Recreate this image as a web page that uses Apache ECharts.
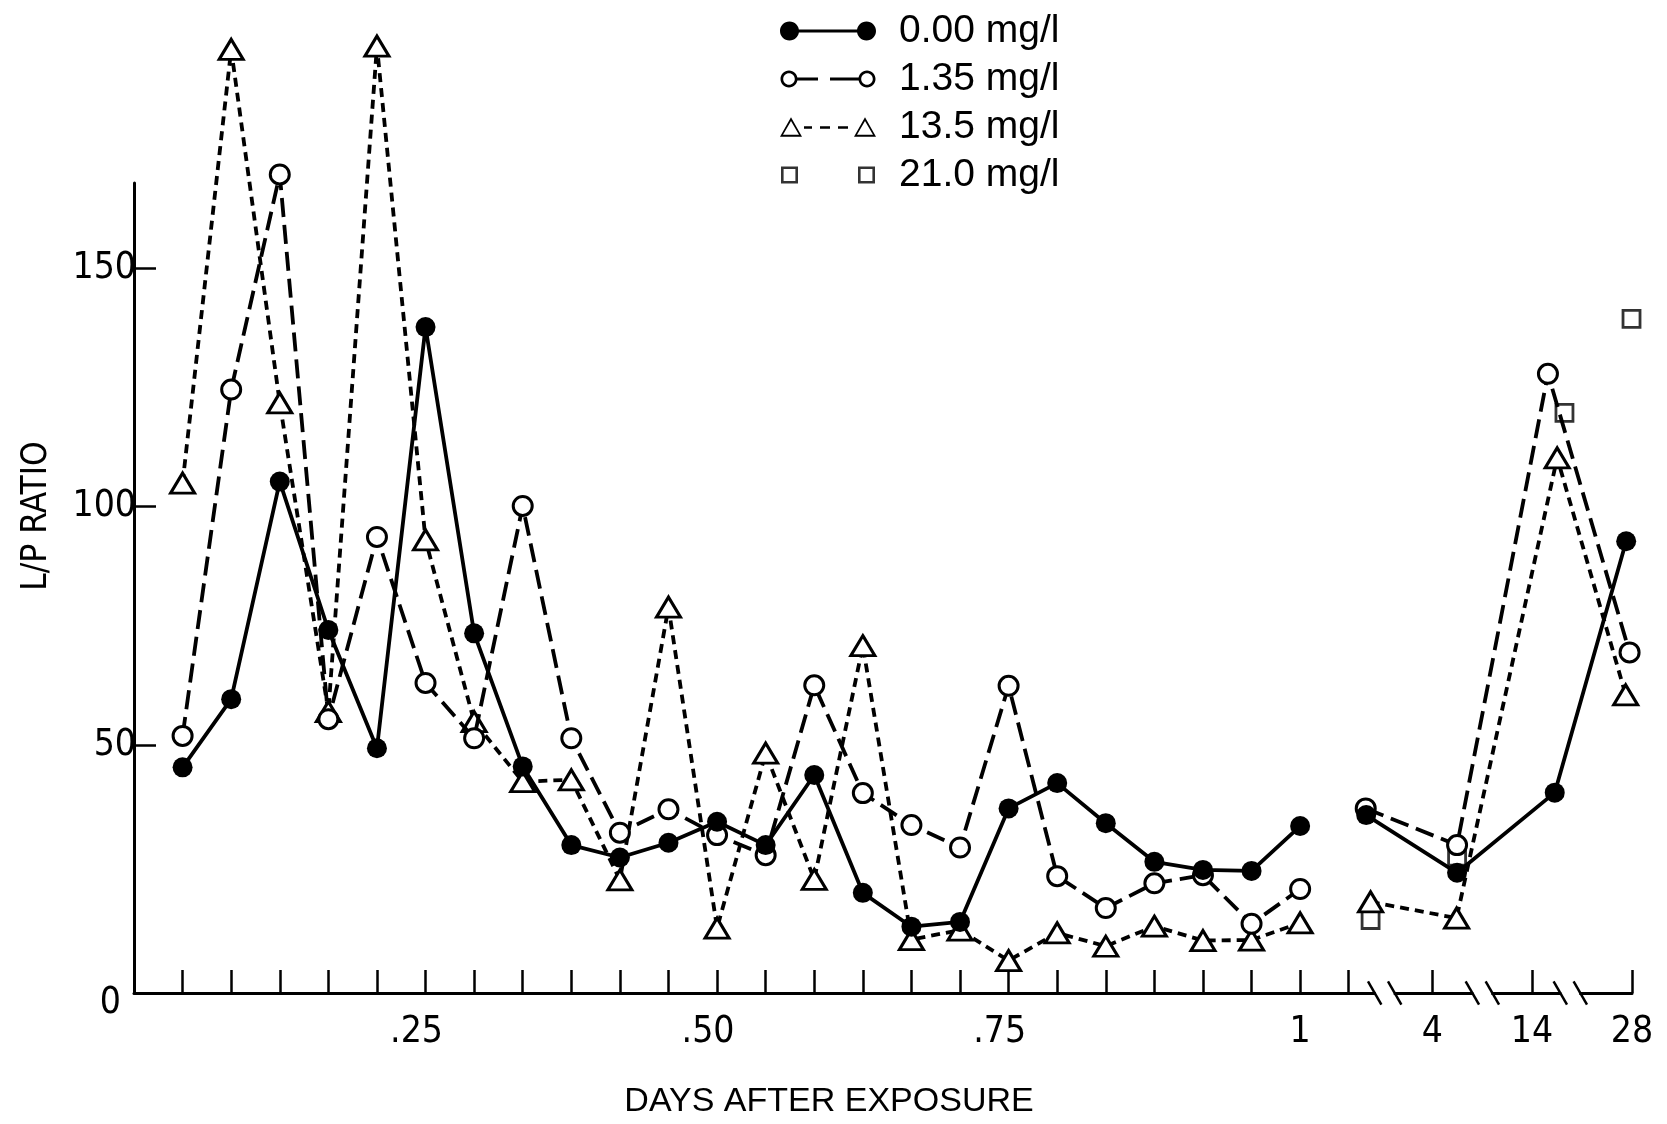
<!DOCTYPE html>
<html>
<head>
<meta charset="utf-8">
<script src="https://cdn.jsdelivr.net/npm/echarts@6/dist/echarts.min.js"></script>
<style>html,body{margin:0;padding:0;background:#fff}#chart{width:1667px;height:1124px}</style>
</head>
<body>
<div id="chart"></div>
<script>
// Axis slots: 1..24 = hours of the first day; later slots sit past the axis breaks
const hours = [1,2,3,4,5,6,7,8,9,10,11,12,13,14,15,16,17,18,19,20,21,22,23,24];
const seriesNames = ['0.00 mg/l', '1.35 mg/l', '13.5 mg/l', '21.0 mg/l'];

const conc000Early = [45.3, 59.6, 105.2, 74.1, 49.3, 137.6, 73.4, 45.5, 29.0, 26.4, 29.5, 33.9, 29.0, 43.7, 19.0, 11.9, 12.9, 36.7, 42.0, 33.6, 25.5, 23.8, 23.6, 33.0];
const conc135Early = [51.9, 124.5, 169.6, 55.4, 93.6, 63.0, 51.4, 100.1, 51.4, 31.6, 36.5, 31.1, 26.9, 62.5, 39.9, 33.2, 28.5, 62.4, 22.5, 15.8, 21.0, 22.7, 12.5, 19.8];
const conc135hEarly = [104.9, 195.8, 121.7, 57.0, 196.5, 93.0, 54.9, 42.3, 42.7, 21.7, 78.9, 11.6, 48.3, 21.8, 70.8, 9.2, 11.2, 4.8, 10.6, 7.8, 12.0, 9.0, 9.1, 12.7];

const conc000LateSlots = [25.36, 27.23, 29.24, 30.71];
const conc000Late = [35.3, 23.2, 40.0, 92.7];
const conc135LateSlots = [25.35, 27.23, 29.10, 30.78];
const conc135Late = [36.7, 29.0, 127.8, 69.4];
const conc135hLateSlots = [25.45, 27.22, 29.29, 30.70];
const conc135hLate = [17.1, 13.7, 110.2, 60.5];
const conc210Slots = [25.45, 27.23, 29.44, 30.82];
const conc210 = [13.3, 26.6, 119.6, 139.3];

const xTickValues = [1,2,3,4,5,6,7,8,9,10,11,12,13,14,15,16,17,18,19,20,21,22,23,24,25,26.72,28.77,30.83];
const xLabelValues = [6, 12, 18, 24, 26.72, 28.77, 30.83];
const xLabelTexts = ['.25', '.50', '.75', '1', '4', '14', '28'];
const xBreakSlots = [25.74, 27.75, 29.56];
const yLabelValues = [0, 50, 100, 150];
const yTickValues = [50, 100, 150];

const X_MIN = 0, X_MAX = 30.83, Y_MIN = -2, Y_MAX = 167.8;
const narrow = "'Liberation Sans Narrow', 'DejaVu Sans Condensed', 'Liberation Sans', sans-serif";
const regular = "'Liberation Sans', Arial, sans-serif";

function pairs(xs, ys) { return xs.map((x, i) => [x, ys[i]]); }

// legend icon path helpers (clockwise = filled, counter-clockwise = hole)
function circ(cx, cy, r, ccw) {
  const k = 0.5523 * r;
  if (!ccw) {
    return `M${cx - r},${cy}C${cx - r},${cy - k} ${cx - k},${cy - r} ${cx},${cy - r}C${cx + k},${cy - r} ${cx + r},${cy - k} ${cx + r},${cy}` +
      `C${cx + r},${cy + k} ${cx + k},${cy + r} ${cx},${cy + r}C${cx - k},${cy + r} ${cx - r},${cy + k} ${cx - r},${cy}Z`;
  }
  return `M${cx - r},${cy}C${cx - r},${cy + k} ${cx - k},${cy + r} ${cx},${cy + r}C${cx + k},${cy + r} ${cx + r},${cy + k} ${cx + r},${cy}` +
    `C${cx + r},${cy - k} ${cx + k},${cy - r} ${cx},${cy - r}C${cx - k},${cy - r} ${cx - r},${cy - k} ${cx - r},${cy}Z`;
}
function bar(x1, x2, y1, y2) { return `M${x1},${y1}L${x2},${y1}L${x2},${y2}L${x1},${y2}Z`; }
function tri(ox) {
  return `M${ox},20L${ox + 11},0.5L${ox + 22},20Z` +
    `M${ox + 19},18.1L${ox + 11},4.3L${ox + 3},18.1Z`;
}
function sq(ox) {
  return `M${ox},1.5L${ox + 17},1.5L${ox + 17},18.5L${ox},18.5Z` +
    `M${ox + 2.6},4.1L${ox + 2.6},15.9L${ox + 14.4},15.9L${ox + 14.4},4.1Z`;
}
const iconFilled = 'path://' + circ(9.5, 10, 9.5) + circ(86.5, 10, 9.5) + bar(9, 87, 8.5, 11.5);
const iconOpen = 'path://' + circ(9, 10, 8.5) + circ(9, 10, 5.8, true) + circ(87, 10, 8.5) + circ(87, 10, 5.8, true) +
  bar(17, 38, 8.6, 11.4) + bar(50, 79, 8.6, 11.4) + bar(0, 0.01, 0, 0.01) + bar(95.99, 96, 19.99, 20);
const iconTri = 'path://' + tri(0) + tri(74) + bar(24, 32, 9.6, 12) + bar(40, 50, 9.6, 12) + bar(58, 68, 9.6, 12);
const iconSq = 'path://' + sq(1) + sq(78) + bar(0, 0.01, 0, 0.01) + bar(95.99, 96, 19.99, 20);

const openStyle = { color: '#fff', borderColor: '#000', borderWidth: 3 };
const lineW = 3.8;

const chart = echarts.init(document.getElementById('chart'), null, { renderer: 'canvas' });
chart.setOption({
  backgroundColor: '#fff',
  animation: false,
  grid: { left: 134, right: 35, top: 183, bottom: 131, outerBoundsMode: 'none', containLabel: false },
  legend: {
    orient: 'vertical', left: 780, top: 11, padding: 0,
    itemWidth: 96, itemHeight: 20, itemGap: 8,
    selectedMode: false,
    textStyle: { fontFamily: regular, fontSize: 39, color: '#000', lineHeight: 40, padding: [0, 0, 0, 18] },
    data: [
      { name: seriesNames[0], icon: iconFilled, itemStyle: { color: '#000', borderWidth: 0 } },
      { name: seriesNames[1], icon: iconOpen, itemStyle: { color: '#000', borderWidth: 0 } },
      { name: seriesNames[2], icon: iconTri, itemStyle: { color: '#000', borderWidth: 0 } },
      { name: seriesNames[3], icon: iconSq, itemStyle: { color: '#000', borderWidth: 0 } }
    ]
  },
  xAxis: {
    type: 'value', min: X_MIN, max: X_MAX,
    name: 'DAYS AFTER EXPOSURE', nameLocation: 'middle', nameGap: 92,
    nameTextStyle: { fontFamily: regular, fontSize: 34, color: '#000', padding: [0, 108, 0, 0] },
    axisLine: { show: true, onZero: false, lineStyle: { color: '#000', width: 3 } },
    axisTick: { show: true, inside: true, length: 23, customValues: xTickValues, lineStyle: { color: '#000', width: 2.5 } },
    axisLabel: {
      show: true, margin: 21, customValues: xLabelValues,
      fontFamily: narrow, fontSize: 37, color: '#000',
      formatter: v => {
        const t = xLabelTexts[xLabelValues.indexOf(v)];
        return t.charAt(0) === '.' ? '{f|' + t + '}' : t;
      },
      rich: { f: { fontFamily: narrow, fontSize: 37, color: '#000', padding: [0, 18, 0, 0] } }
    },
    splitLine: { show: false }
  },
  yAxis: {
    type: 'value', min: Y_MIN, max: Y_MAX,
    name: 'L/P RATIO', nameLocation: 'middle', nameGap: 80, nameRotate: 90,
    nameTextStyle: { fontFamily: narrow, fontSize: 35, color: '#000', padding: [0, 0, 0, 144] },
    axisLine: { show: true, onZero: false, lineStyle: { color: '#000', width: 3 } },
    axisTick: { show: true, inside: true, length: 22, customValues: yTickValues, lineStyle: { color: '#000', width: 2.5 } },
    axisLabel: {
      show: true, margin: -2, customValues: yLabelValues,
      fontFamily: narrow, fontSize: 37, color: '#000',
      formatter: v => v === 0 ? '{z|0}' : String(v),
      rich: { z: { fontFamily: narrow, fontSize: 37, color: '#000', padding: [40, 15, 0, 0] } }
    },
    splitLine: { show: false }
  },
  series: [
    {
      name: seriesNames[3], type: 'scatter', data: pairs(conc210Slots, conc210),
      symbol: 'rect', symbolSize: 17, itemStyle: { color: '#fff', borderColor: '#000', borderWidth: 2.8 }, clip: false, z: 3
    },
    {
      name: seriesNames[2], type: 'line', data: pairs(hours, conc135hEarly),
      symbol: 'triangle', symbolSize: [24, 20], showAllSymbol: true, itemStyle: openStyle,
      lineStyle: { color: '#000', width: lineW, type: [9, 6] }, clip: false, z: 3
    },
    {
      name: seriesNames[2], type: 'line', data: pairs(conc135hLateSlots, conc135hLate),
      symbol: 'triangle', symbolSize: [24, 20], showAllSymbol: true, itemStyle: openStyle,
      lineStyle: { color: '#000', width: lineW, type: [9, 6] }, clip: false, z: 3
    },
    {
      name: seriesNames[1], type: 'line', data: pairs(hours, conc135Early),
      symbol: 'circle', symbolSize: 19, showAllSymbol: true, itemStyle: openStyle,
      lineStyle: { color: '#000', width: lineW, type: [19, 8] }, clip: false, z: 4
    },
    {
      name: seriesNames[1], type: 'line', data: pairs(conc135LateSlots, conc135Late),
      symbol: 'circle', symbolSize: 19, showAllSymbol: true, itemStyle: openStyle,
      lineStyle: { color: '#000', width: lineW, type: [19, 8] }, clip: false, z: 4
    },
    {
      name: seriesNames[0], type: 'line', data: pairs(hours, conc000Early),
      symbol: 'circle', symbolSize: 20, showAllSymbol: true, itemStyle: { color: '#000' },
      lineStyle: { color: '#000', width: lineW, type: 'solid' }, clip: false, z: 5
    },
    {
      name: seriesNames[0], type: 'line', data: pairs(conc000LateSlots, conc000Late),
      symbol: 'circle', symbolSize: 20, showAllSymbol: true, itemStyle: { color: '#000' },
      lineStyle: { color: '#000', width: lineW, type: 'solid' }, clip: false, z: 5
    },
    {
      type: 'custom', name: 'axisBreaks', silent: true, clip: false, z: 6,
      data: xBreakSlots.map(x => [x, Y_MIN]),
      encode: { x: 0, y: 1 },
      renderItem: (params, api) => {
        const p = api.coord([api.value(0), api.value(1)]);
        return {
          type: 'group',
          children: [
            { type: 'rect', shape: { x: p[0] - 9, y: p[1] - 4, width: 18, height: 8 }, style: { fill: '#fff' } },
            { type: 'line', shape: { x1: p[0] - 16.7, y1: p[1] - 11.6, x2: p[0] - 3.3, y2: p[1] + 11.7 }, style: { stroke: '#000', lineWidth: 2.5 } },
            { type: 'line', shape: { x1: p[0] + 3.3, y1: p[1] - 11.6, x2: p[0] + 16.7, y2: p[1] + 11.7 }, style: { stroke: '#000', lineWidth: 2.5 } }
          ]
        };
      }
    }
  ]
});
</script>
</body>
</html>
